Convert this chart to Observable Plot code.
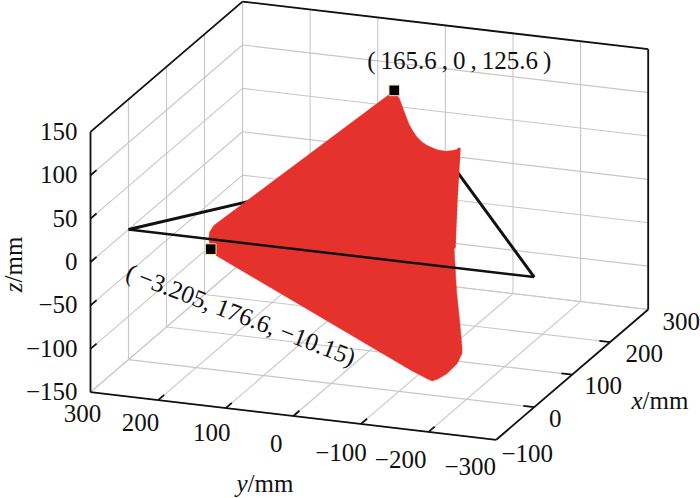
<!DOCTYPE html>
<html><head><meta charset="utf-8">
<script src="https://cdn.jsdelivr.net/npm/d3@7"></script>
<script src="https://cdn.jsdelivr.net/npm/@observablehq/plot@0.6"></script>
<style>html,body{margin:0;background:#fff}svg{display:block}</style>
</head><body><div id="c"></div>
<script>
// axis ticks (mm)
const xTicks = [-100, 0, 100, 200, 300];
const yTicks = [300, 200, 100, 0, -100, -200, -300];
const zTicks = [-150, -100, -50, 0, 50, 100, 150];

// base triangle (mm)
const triX = [0, 300, 0];
const triY = [300, 0, -300];
const triZ = [0, 0, 0];

// red region outline (mm)
const redX = [165.6,158.2,147.8,135.9,129.5,124.2,120.3,117.6,114.6,114.2,115.6,117.7,69.2,24.8,-15,-42.7,-67.7,-73.4,-83.2,-93.7,-99.7,-102.3,-100.9,-94.4,-8.6,-3.205,6.2,12.5,19.2,24.7,159.0];
const redY = [0,-11.8,-24.0,-38.1,-47.6,-57.1,-66.4,-75.7,-92.1,-104.6,-114.2,-122.6,-145.4,-167.5,-193.5,-213.6,-231.3,-234.4,-232.9,-223.9,-214.4,-206.6,-198.4,-170.1,165.5,176.6,184.7,187.2,184.6,177.8,7.8];
const redZ = [125.6,119.7,111.3,101.7,96.6,92.3,89.2,87.0,84.6,84.3,85.4,87.1,48.1,12.4,-19.6,-41.9,-62.0,-66.6,-74.5,-82.9,-87.7,-89.8,-88.7,-83.5,-14.5,-10.15,-2.6,2.5,7.9,12.3,120.3];
const serrated = [11, 12, 13]; // outline vertices along the jagged edge

// annotated points
const markX = [165.6, -3.205];
const markY = [0, 176.6];
const markZ = [125.6, -10.15];

// view: oblique projection of the box onto the page
const O = [90, 391.7];
const ex = [152, -130.3], ey = [405.7, 47.6], ez = [0, -260.3];
const proj = (x, y, z) => {
  const a = (x + 100) / 400, b = (300 - y) / 600, c = (z + 150) / 300;
  return [O[0] + a * ex[0] + b * ey[0] + c * ez[0], O[1] + a * ex[1] + b * ey[1] + c * ez[1]];
};
const pts = (X, Y, Z) => X.map((x, i) => { const p = proj(x, Y[i], Z[i]); return {px: p[0], py: p[1]}; });
const seg = (a, b) => { const p = proj(...a), q = proj(...b); return {x1: p[0], y1: p[1], x2: q[0], y2: q[1]}; };

const xMin = -100, xMax = 300, yMin = -300, yMax = 300, zMin = -150, zMax = 150;
const grid = [];
for (const x of xTicks) {
  grid.push(seg([x, yMax, zMin], [x, yMin, zMin]));
  grid.push(seg([x, yMax, zMin], [x, yMax, zMax]));
}
for (const y of yTicks) {
  grid.push(seg([xMin, y, zMin], [xMax, y, zMin]));
  grid.push(seg([xMax, y, zMin], [xMax, y, zMax]));
}
for (const z of zTicks) {
  grid.push(seg([xMin, yMax, z], [xMax, yMax, z]));
  grid.push(seg([xMax, yMax, z], [xMax, yMin, z]));
}
const frame = [
  seg([xMin,yMax,zMin],[xMin,yMax,zMax]), seg([xMin,yMax,zMax],[xMax,yMax,zMax]),
  seg([xMax,yMax,zMax],[xMax,yMin,zMax]), seg([xMax,yMin,zMax],[xMax,yMin,zMin]),
  seg([xMax,yMin,zMin],[xMin,yMin,zMin]), seg([xMin,yMin,zMin],[xMin,yMax,zMin])
];
const tickLen = 16;
const ticks = [
  ...zTicks.slice(1, -1).map(z => seg([xMin,yMax,z],[xMin+tickLen,yMax,z])),
  ...yTicks.slice(1, -1).map(y => seg([xMin,y,zMin],[xMin+tickLen,y,zMin])),
  ...xTicks.slice(1, -1).map(x => seg([x,yMin,zMin],[x,yMin+tickLen,zMin]))
];

const fmt = v => String(v).replace("-", "\u2212");
// label nudges from the axis line, px
const yShift = [[-8,22],[-17.5,23],[-14,25],[-17,27.5],[-20,29],[-28,28],[-26,27]];
const xShift = [[31,14],[21,12],[31,11],[34,12],[33,12]];
const zLabels = zTicks.map(z => { const p = proj(xMin,yMax,z); return {px:p[0], py:p[1], t:fmt(z)}; });
const yLabels = yTicks.map((y,i) => { const p = proj(xMin,y,zMin); return {px:p[0]+yShift[i][0], py:p[1]+yShift[i][1], t:fmt(y)}; });
const xLabels = xTicks.map((x,i) => { const p = proj(x,yMin,zMin); return {px:p[0]+xShift[i][0], py:p[1]+xShift[i][1], t:fmt(x)}; });

const tri = pts(triX, triY, triZ);
const red = pts(redX, redY, redZ);
const marks = pts(markX, markY, markZ);
const FONT = "'Liberation Serif', serif";
const SIZE = 25;
const RED = "#e5322d";
const GRID = "#cbc6c6";
const linkOpts = {x1:"x1",y1:"y1",x2:"x2",y2:"y2"};
const tx = {x:"px", y:"py", text:"t", fontFamily:FONT, fontSize:SIZE, fill:"#111"};
const label = (s, px, py, o) => Plot.text([{px, py, t:s}], {...tx, ...o});

const chart = Plot.plot({
  width:700, height:498, margin:0,
  style:{background:"#fff", fontFamily:FONT},
  x:{domain:[0,700], range:[0,700], axis:null},
  y:{domain:[0,498], range:[0,498], axis:null},
  marks:[
    Plot.link(grid, {...linkOpts, stroke:GRID, strokeWidth:1.1}),
    Plot.link(frame, {...linkOpts, stroke:"#111", strokeWidth:1.8}),
    Plot.link(ticks, {...linkOpts, stroke:"#111", strokeWidth:1.8}),
    Plot.link([{a:tri[0],b:tri[1]},{a:tri[1],b:tri[2]}], {x1:d=>d.a.px,y1:d=>d.a.py,x2:d=>d.b.px,y2:d=>d.b.py,stroke:"#111",strokeWidth:3}),
    Plot.line(red, {x:"px",y:"py",fill:RED,stroke:RED,strokeWidth:0.5,curve:"linear-closed"}),
    Plot.line(serrated.map(i=>red[i]), {x:"px",y:"py",stroke:RED,strokeWidth:3.4,strokeDasharray:"2,2"}),
    Plot.link([{a:tri[0],b:tri[2]}], {x1:d=>d.a.px,y1:d=>d.a.py,x2:d=>d.b.px,y2:d=>d.b.py,stroke:"#111",strokeWidth:2.5}),
    Plot.dot(marks, {x:"px",y:"py",symbol:"square",r:6,fill:"#000",stroke:"#f3e8a6",strokeWidth:1}),
    Plot.text(zLabels, {...tx, textAnchor:"end", dx:-13}),
    Plot.text(yLabels, tx),
    Plot.text(xLabels, tx),
    Plot.text(marks.slice(0,1), {x:"px",y:"py",text:()=>"(\u2009165.6\u2009,\u20090\u2009,\u2009125.6\u2009)",fontFamily:FONT,fontSize:SIZE,fill:"#111",dx:65,dy:-29}),
    Plot.text(marks.slice(1), {x:"px",y:"py",text:()=>"(\u2009\u22123.205, 176.6, \u221210.15)",fontFamily:FONT,fontSize:SIZE,fill:"#111",rotate:21,dx:30,dy:66}),
    label("y", 247, 483, {fontStyle:"italic", textAnchor:"end"}),
    label("/mm", 247, 483, {textAnchor:"start"}),
    label("x", 642, 400, {fontStyle:"italic", textAnchor:"end"}),
    label("/mm", 642, 400, {textAnchor:"start"}),
    label("z", 13, 282, {fontStyle:"italic", textAnchor:"end", rotate:-90}),
    label("/mm", 13, 282, {textAnchor:"start", rotate:-90})
  ]
});
document.getElementById("c").append(chart);
</script></body></html>
